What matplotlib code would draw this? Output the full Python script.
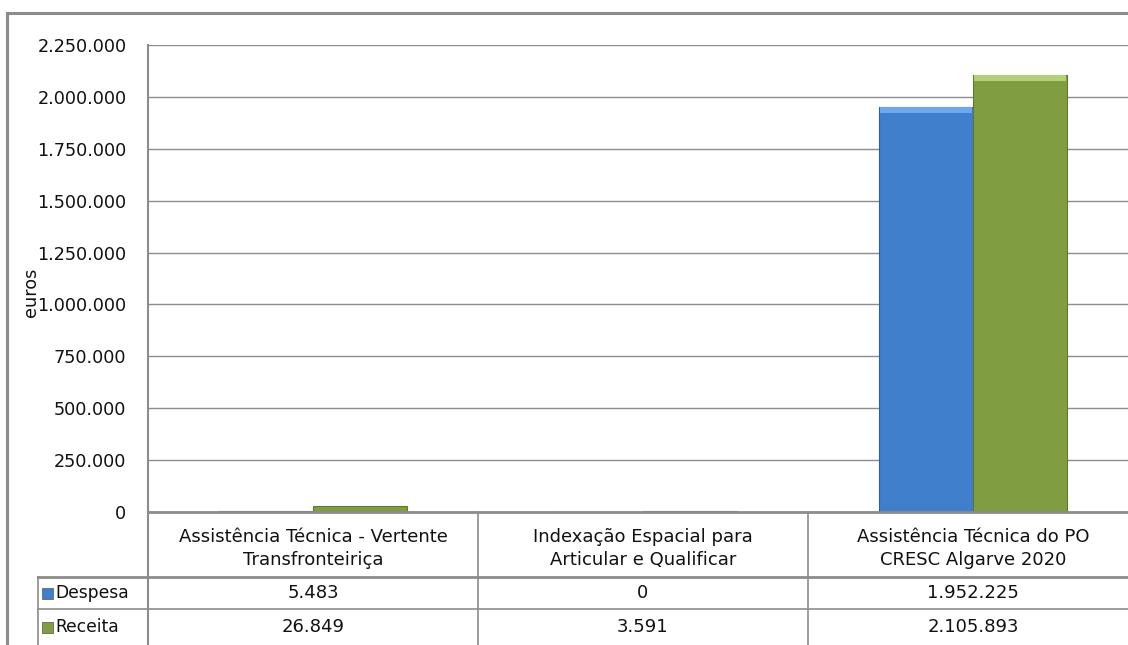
import numpy as np
import matplotlib
matplotlib.use("Agg")
import matplotlib.pyplot as plt
from matplotlib.lines import Line2D
from matplotlib.patches import Rectangle

# dados
categorias = ["Assistência Técnica - Vertente\nTransfronteiriça",
              "Indexação Espacial para\nArticular e Qualificar",
              "Assistência Técnica do PO\nCRESC Algarve 2020"]
series = ["Despesa", "Receita"]
despesa = [5483, 0, 1952225]
receita = [26849, 3591, 2105893]
rotulos_tabela = [["5.483", "0", "1.952.225"],
                  ["26.849", "3.591", "2.105.893"]]
yticks = [0, 250000, 500000, 750000, 1000000, 1250000, 1500000, 1750000, 2000000, 2250000]

cor_azul = "#3f7fcb"
cor_verde = "#819d42"
cor_grelha = "#8c8c8c"
cor_texto = "#111111"

W, H = 1128, 645
plt.rcParams['font.family'] = ['DejaVu Sans']
fig = plt.figure(figsize=(W / 100, H / 100), dpi=100)

# eixo principal em pixeis
x0, x1 = 148, 1138
ytop, yzero = 45, 512
ax = fig.add_axes([x0 / W, 1 - yzero / H, (x1 - x0) / W, (yzero - ytop) / H])
ax.set_xlim(-0.5, 2.5)
ax.set_ylim(0, 2250000)

x = np.arange(len(categorias))
larg = 0.285
ax.bar(x - larg / 2, despesa, larg, color=cor_azul, edgecolor="#2f5f9a", linewidth=0.8, zorder=3)
ax.bar(x + larg / 2, receita, larg, color=cor_verde, edgecolor="#5f7a2c", linewidth=0.8, zorder=3)

# brilho no topo (efeito bisel)
faixa = 2250000 * 6 / (yzero - ytop)
for xi, v in zip(x, despesa):
    if v > faixa * 3:
        ax.bar(xi - larg / 2, faixa, larg * 0.97, bottom=v - faixa, color="#6fa8ea", linewidth=0, zorder=4)
for xi, v in zip(x, receita):
    if v > faixa * 3:
        ax.bar(xi + larg / 2, faixa, larg * 0.97, bottom=v - faixa, color="#b3cf78", linewidth=0, zorder=4)

ax.set_yticks(yticks)
ax.set_yticklabels([f"{v:,}".replace(",", ".") for v in yticks], fontsize=12.7, color=cor_texto)
ax.yaxis.grid(True, color=cor_grelha, linewidth=1)
ax.set_axisbelow(True)
ax.tick_params(axis="y", length=0, pad=15.5)
ax.set_xticks([])
for s in ["top", "right", "bottom"]:
    ax.spines[s].set_visible(False)
ax.spines["left"].set_color(cor_grelha)
ax.spines["left"].set_linewidth(1.5)
ax.set_ylabel("euros", fontsize=12.7, color=cor_texto)
ax.yaxis.set_label_coords(-(148 - 40) / (x1 - x0), 0.47)


def fx(px):
    return px / W


def fy(py):
    return 1 - py / H


def linha(xa, ya, xb, yb, lw=1.2):
    fig.add_artist(Line2D([fx(xa), fx(xb)], [fy(ya), fy(yb)], color=cor_grelha, linewidth=lw,
                          transform=fig.transFigure))


# tabela de dados
col_w = (x1 - x0) / 3
y_cab, y_desp, y_rec, y_fim = 512, 577, 609, 645
lab_x = 38
linha(x0, y_cab, W, y_cab, 2)
linha(lab_x, y_desp, W, y_desp, 2)
linha(lab_x, y_rec, W, y_rec)
linha(lab_x, y_desp, lab_x, y_fim)
linha(x0, y_cab, x0, y_fim, 1.5)
for i in range(1, 3):
    linha(x0 + i * col_w, y_cab, x0 + i * col_w, y_fim)

for i, cat in enumerate(categorias):
    fig.text(fx(x0 + (i + 0.5) * col_w), fy((y_cab + y_desp) / 2 + 4), cat, ha="center", va="center",
             fontsize=13, linespacing=1.4, color=cor_texto)
for r, (nome, cor) in enumerate(zip(series, [cor_azul, cor_verde])):
    yc = [(y_desp + y_rec) / 2, (y_rec + y_fim) / 2][r]
    fig.add_artist(Rectangle((fx(42), fy(yc + 5.5)), 11 / W, 11 / H, facecolor=cor, edgecolor="#555555",
                             linewidth=0.5, transform=fig.transFigure))
    fig.text(fx(55), fy(yc), nome, ha="left", va="center", fontsize=12.3, color=cor_texto)
    for i in range(3):
        fig.text(fx(x0 + (i + 0.5) * col_w), fy(yc), rotulos_tabela[r][i], ha="center", va="center",
                 fontsize=13, color=cor_texto)

# moldura exterior
linha(7, 13, W, 13, 2.2)
linha(7, 13, 7, H, 2.2)

fig.savefig("out.png", dpi=100)
